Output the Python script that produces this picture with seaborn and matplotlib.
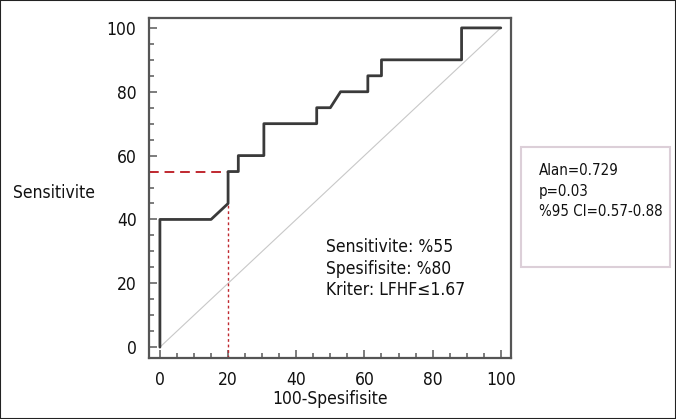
import numpy as np
import pandas as pd
import matplotlib
matplotlib.use("Agg")
import matplotlib.pyplot as plt
import seaborn as sns
from matplotlib import font_manager
from matplotlib.patches import Rectangle
from matplotlib.ticker import MultipleLocator

# ROC curve (100-specificity, sensitivity)
fpr = [0, 0, 15, 19, 20, 20, 23, 23, 30.5, 30.5, 46, 46, 50, 53, 61, 61, 65, 65, 88.5, 88.5, 100]
tpr = [0, 40, 40, 44, 45, 55, 55, 60, 60, 70, 70, 75, 75, 80, 80, 85, 85, 90, 90, 100, 100]
diag = [0, 100]

cut_x = 20
cut_sens = 55
cut_low = 45

x_ticks = [0, 20, 40, 60, 80, 100]
y_ticks = [0, 20, 40, 60, 80, 100]

stats_lines = ["Sensitivite: %55", "Spesifisite: %80", "Kriter: LFHF\u22641.67"]
box_lines = ["Alan=0.729", "p=0.03", "%95 CI=0.57-0.88"]

sns.set_theme(style="white")

# the original uses a narrow grotesque; take a condensed face if one is installed
narrow = [f for f in font_manager.fontManager.ttflist
          if ("Narrow" in f.fname or "Condensed" in f.fname)
          and "Bold" not in f.fname and "Oblique" not in f.fname and "Italic" not in f.fname]
if narrow:
    plt.rcParams["font.family"] = [narrow[0].name, "Liberation Sans", "DejaVu Sans"]
    if "Condensed" in narrow[0].fname:
        plt.rcParams["font.stretch"] = "condensed"
    size = 12.5
else:
    plt.rcParams["font.family"] = ["Liberation Sans", "DejaVu Sans"]
    size = 12

fig = plt.figure(figsize=(6.76, 4.19), dpi=100)
ax = fig.add_axes([149 / 676, 61 / 419, 362 / 676, 340 / 419])

roc = pd.DataFrame({"fpr": fpr, "tpr": tpr})
ax.plot(diag, diag, color="#c8c8c8", linewidth=0.8, zorder=1)
sns.lineplot(data=roc, x="fpr", y="tpr", sort=False, estimator=None,
             color="#3a3a3a", linewidth=2.0, ax=ax, zorder=3)

# cut-off guides
frame_left = -3.2
ax.plot([frame_left, cut_x], [cut_sens, cut_sens], color="#c0282f",
        linestyle=(0, (5, 3)), linewidth=1.4, zorder=2)
ax.plot([cut_x, cut_x], [-3.4, cut_low], color="#c0282f",
        linestyle=(0, (2, 2)), linewidth=1.0, zorder=2)

ax.set_xlim(frame_left, 103)
ax.set_ylim(-3.4, 103.1)
ax.set_xticks(x_ticks)
ax.set_yticks(y_ticks)
ax.xaxis.set_minor_locator(MultipleLocator(5))
ax.yaxis.set_minor_locator(MultipleLocator(5))
ax.tick_params(which="major", direction="in", length=6, width=1.2, color="#666666",
               labelsize=size, pad=9, labelcolor="#111111")
ax.tick_params(which="minor", direction="in", length=3.5, width=1.2, color="#666666")
ax.tick_params(top=False, right=False, which="both")
ax.tick_params(axis="both", which="both", bottom=True, left=True)

for side in ax.spines.values():
    side.set_color("#555555")
    side.set_linewidth(1.6)

ax.set_xlabel("100-Spesifisite", fontsize=size, color="#111111", labelpad=1)
ax.set_ylabel("")

fig.text(13 / 676, 1 - 193 / 419, "Sensitivite", fontsize=size, color="#111111",
         ha="left", va="center")

for i, line in enumerate(stats_lines):
    fig.text(326 / 676, 1 - (247 + 21.5 * i) / 419, line, fontsize=size,
             color="#111111", ha="left", va="center")

box = Rectangle((521 / 676, 1 - 267 / 419), 149 / 676, 120 / 419,
                transform=fig.transFigure, facecolor="white",
                edgecolor="#dccfd8", linewidth=1.5)
fig.patches.append(box)
for i, line in enumerate(box_lines):
    fig.text(539 / 676, 1 - (170 + 21 * i) / 419, line, fontsize=size - 1.7,
             color="#111111", ha="left", va="center")

border = Rectangle((0, 0), 1, 1, transform=fig.transFigure, fill=False,
                   edgecolor="#222222", linewidth=1.5)
fig.patches.append(border)

fig.savefig("out.png", dpi=100)
